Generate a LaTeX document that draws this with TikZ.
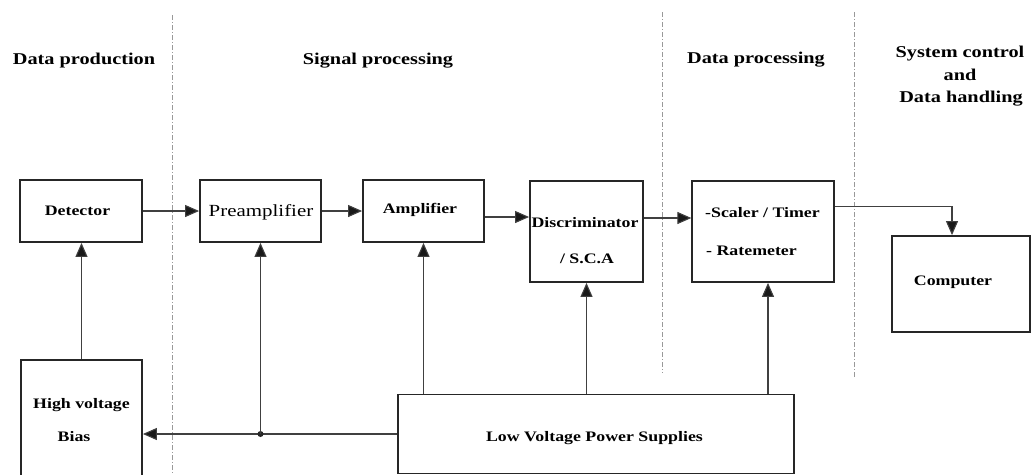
\documentclass[tikz,border=0pt]{standalone}
\usepackage{fontspec}
\setmainfont{Liberation Serif}[FakeStretch=1.23]
\usetikzlibrary{arrows.meta,calc}

\tikzset{
  box/.style={draw=black!85, line width=1.8pt, inner sep=0pt, fill=none},
  wire/.style={draw=black!75, line width=1.1pt},
  arr/.style={wire, -{Triangle[length=14pt,width=12pt,fill=black!90]}},
  head/.style={font=\fontsize{16.5}{19}\selectfont\bfseries, anchor=base, inner sep=0pt},
  lbl/.style={font=\fontsize{14.5}{16}\selectfont\bfseries, anchor=base, inner sep=0pt},
  sep/.style={draw=black!40, line width=0.8pt, dash pattern=on 5pt off 2pt on 1pt off 2pt}
}

\begin{document}
\begin{tikzpicture}[x=1pt,y=-1pt]
\useasboundingbox (0,0) rectangle (1031,474);

% stage separators
\draw[sep] (172,15) -- (172,474);
\draw[sep] (662,12) -- (662,373);
\draw[sep] (854,12) -- (854,377);

% stage headings
\node[head] (h1) at (84,64) {Data production};
\node[head] (h2) at (378,64) {Signal processing};
\node[head] (h3) at (756,63) {Data processing};
\node[head] (h4a) at (960,57) {System control};
\node[head] (h4b) at (960,80) {and};
\node[head] (h4c) at (961,102) {Data handling};

% blocks
\node[box, minimum width=122pt, minimum height=62pt] (det) at (81,211) {};
\node[box, minimum width=121pt, minimum height=62pt] (pre) at (260.5,211) {};
\node[box, minimum width=121pt, minimum height=62pt] (amp) at (423.5,211) {};
\node[box, minimum width=113pt, minimum height=101pt] (disc) at (586.5,231.5) {};
\node[box, minimum width=141.5pt, minimum height=101pt] (scal) at (763,231.5) {};
\node[box, minimum width=138pt, minimum height=96pt] (comp) at (961,284) {};
\node[box, minimum width=121pt, minimum height=120pt] (hv) at (81.5,420) {};
\node[box, minimum width=396pt, minimum height=79pt] (lv) at (596,434) {};

% block texts
\node[lbl] (tdet) at (77.5,215.5) {Detector};
\node[lbl, font=\fontsize{17}{19}\selectfont] (tpre) at (261,216) {Preamplifier};
\node[lbl] (tamp) at (420,213) {Amplifier};
\node[lbl] (tdisc1) at (585,227) {Discriminator};
\node[lbl] (tdisc2) at (587,263) {/ S.C.A};
\node[lbl, anchor=base west] (tscal1) at (705,217) {-Scaler / Timer};
\node[lbl, anchor=base west] (tscal2) at (706,255) {- Ratemeter};
\node[lbl] (tcomp) at (953,285) {Computer};
\node[lbl] (thv1) at (81.5,408) {High voltage};
\node[lbl] (thv2) at (74,441) {Bias};
\node[lbl] (tlv) at (594.5,441) {Low Voltage Power Supplies};

% signal chain
\draw[arr] (det.east) -- (pre.west);
\draw[arr] (pre.east) -- (amp.west);
\coordinate (ad) at ($(amp.east)+(0,6)$);
\draw[arr] (ad) -- (ad -| disc.west);
\coordinate (ds) at ($(disc.east)+(0,-13.5)$);
\draw[arr] (ds) -- (ds -| scal.west);
\coordinate (sc) at ($(scal.east)+(0,-25)$);
\coordinate (cin) at ($(comp.north)+(-9,0)$);
\draw[arr] (sc) -- (sc -| cin) -- (cin);

% bias and power supply lines
\draw[arr] (hv.north) -- (hv.north |- det.south);
\draw[arr] (lv.west) -- (lv.west -| hv.east);
\coordinate (j) at (pre.south |- lv.west);
\fill[black!85] (j) circle (3pt);
\draw[arr] (j) -- (pre.south);
\draw[arr] (lv.north -| amp.south) -- (amp.south);
\draw[arr] (lv.north -| disc.south) -- (disc.south);
\coordinate (sp) at ($(scal.south)+(5,0)$);
\draw[arr] (sp |- lv.north) -- (sp);
\end{tikzpicture}
\end{document}
